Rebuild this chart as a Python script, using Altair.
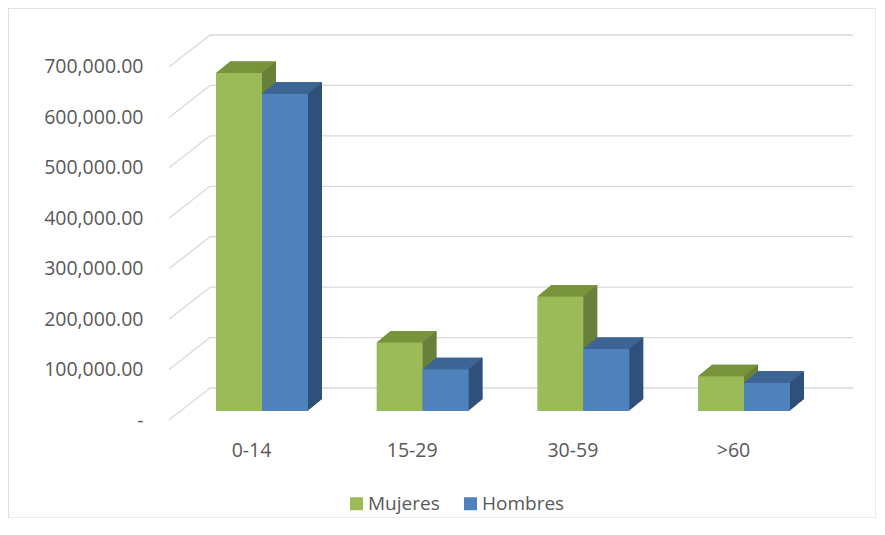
import json
import altair as alt
import pandas as pd

# ---------------- data ----------------
categories = ["0-14", "15-29", "30-59", ">60"]
series_names = ["Mujeres", "Hombres"]
mujeres = [670000, 136000, 227000, 69000]
hombres = [629000, 83000, 123000, 56000]
y_ticks = [0, 100000, 200000, 300000, 400000, 500000, 600000, 700000]

rows = []
for i, c in enumerate(categories):
    rows.append({"cat": c, "idx": i, "series": "Mujeres", "value": mujeres[i]})
    rows.append({"cat": c, "idx": i, "series": "Hombres", "value": hombres[i]})
df = pd.DataFrame(rows)
ticks_df = pd.DataFrame({"v": y_ticks})

# ---------------- styles / layout ----------------
FONT = "Open Sans"
TEXT = "#595959"
GRID = "#d9d9d9"
FRONT = {"Mujeres": "#9bbb59", "Hombres": "#4f81bd"}
TOP = {"Mujeres": "#77933c", "Hombres": "#3c6494"}
SIDE = {"Mujeres": "#68803a", "Hombres": "#2f5179"}

W, H = 868, 510
STEP = 160.67          # px between category centres
BAR_PX = 46            # px width of one bar
X0_PX = 254            # plot x of first category centre (bar plane)
xmin = -X0_PX / STEP
xmax = xmin + W / STEP
BW = BAR_PX / STEP

PX100K = 50.43         # px per 100,000
ZERO_Y = 412           # front-plane zero (plot y)
ymin = -(H - ZERO_Y) / PX100K * 100000
ymax = ymin + H / PX100K * 100000

DEPTH_X, DEPTH_Y = 14, 11.5   # bar depth
BAR_PLANE = -9                # bar plane vs front plane
WALL_DX, WALL_DY = 41, -32    # back wall vs front plane
FRONT_X = 161                 # plot x of front plane
WALL_RIGHT = 845

xscale = alt.Scale(domain=[xmin, xmax], nice=False, zero=False)
yscale = alt.Scale(domain=[ymin, ymax], nice=False, zero=False)

cat_js = json.dumps(categories)
xaxis = alt.Axis(values=[0, 1, 2, 3], labelExpr=f"{cat_js}[datum.value]",
                 title=None, orient="bottom", offset=-68, ticks=False, tickSize=0,
                 domain=False, grid=False, labelPadding=0, labelBaseline="middle",
                 labelOffset=-11, labelFontSize=19.5, labelColor=TEXT, labelFont=FONT,
                 labelFlush=False, labelOverlap=False)
yaxis = alt.Axis(values=y_ticks,
                 labelExpr="datum.value == 0 ? '-\u00a0\u00a0' : format(datum.value, ',.2f')",
                 title=None, orient="left", offset=-135, ticks=False, tickSize=0,
                 domain=False, grid=False, labelPadding=0, labelFontSize=19.5,
                 labelColor=TEXT, labelFont=FONT, labelFlush=False, labelOverlap=False)

def X(field):
    return alt.X(field, scale=xscale, axis=xaxis)

def Y(field):
    return alt.Y(field, scale=yscale, axis=yaxis)

# ---------------- gridlines ----------------
diag = alt.Chart(ticks_df).mark_rule(color=GRID, strokeWidth=1.3, y2Offset=WALL_DY).encode(
    x=alt.value(FRONT_X), x2=alt.value(FRONT_X + WALL_DX), y=Y("v:Q"), y2="v:Q")
wall = alt.Chart(ticks_df).mark_rule(color=GRID, strokeWidth=1.3, yOffset=WALL_DY).encode(
    x=alt.value(FRONT_X + WALL_DX), x2=alt.value(WALL_RIGHT), y=Y("v:Q"))

base = alt.Chart(df).transform_calculate(
    pos=f"datum.idx + (datum.series == 'Mujeres' ? -0.5 : 0.5) * {BW}"
).transform_calculate(
    x0=f"datum.pos - {BW / 2}"
).transform_calculate(
    x1=f"datum.pos + {BW / 2}"
)

half = BAR_PX / 2
top_path = (f"M{-half},0 L{half},0 L{half + DEPTH_X},{-DEPTH_Y} "
            f"L{-half + DEPTH_X},{-DEPTH_Y} Z")

legend = alt.Legend(orient="none", legendX=339, legendY=486, direction="horizontal",
                    title=None, symbolType="square", symbolSize=169, symbolStrokeWidth=0,
                    symbolOpacity=1, labelFontSize=19, labelColor=TEXT, labelFont=FONT,
                    columnPadding=21, labelOffset=2, padding=0)

layers = [diag, wall]
for s in series_names:
    part = base.transform_filter(f"datum.series == '{s}'")
    for k in range(1, DEPTH_X + 1):
        dy = BAR_PLANE - k * DEPTH_Y / DEPTH_X
        layers.append(part.mark_bar(color=SIDE[s], xOffset=k, x2Offset=k, yOffset=dy,
                                    y2Offset=dy, strokeWidth=0).encode(
            x=X("x0:Q"), x2="x1:Q", y=Y("value:Q"), y2=alt.datum(0)))
    layers.append(part.mark_point(shape=top_path, size=4, filled=True, opacity=1,
                                  color=TOP[s], strokeWidth=0, yOffset=BAR_PLANE).encode(
        x=X("pos:Q"), y=Y("value:Q")))
    layers.append(part.mark_bar(yOffset=BAR_PLANE, y2Offset=BAR_PLANE, strokeWidth=0).encode(
        x=X("x0:Q"), x2="x1:Q", y=Y("value:Q"), y2=alt.datum(0),
        color=alt.Color("series:N",
                        scale=alt.Scale(domain=series_names,
                                        range=[FRONT[n] for n in series_names]),
                        legend=legend)))

chart = alt.layer(*layers).properties(
    width=W, height=H, padding=0, background="white"
).configure_view(stroke=GRID, strokeWidth=1.3)

chart.save("out.html", embed_options={"renderer": "svg", "actions": False})
